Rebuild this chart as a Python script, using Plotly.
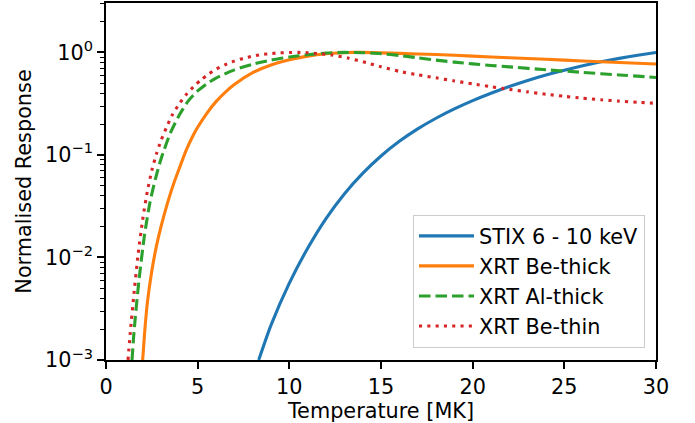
import numpy as np
import plotly.graph_objects as go

# Temperature [MK] and log10(normalised response)
stix_T = [8.33, 9, 10, 11, 12, 13, 14, 15, 16, 17, 18, 19, 20, 21, 22, 23, 24, 25, 26, 27, 28, 29, 30]
stix_log10 = [-3.0, -2.66, -2.25, -1.91, -1.62, -1.38, -1.18, -1.01, -0.867, -0.746, -0.642, -0.551,
              -0.47, -0.398, -0.332, -0.273, -0.22, -0.173, -0.13, -0.092, -0.058, -0.028, 0.0]

bethick_T = [2.0, 2.1, 2.25, 2.5, 2.75, 3.0, 3.37, 3.75, 4.0, 4.36, 4.75, 5.0, 5.5, 6.0, 6.5, 7.0, 8.0,
             9.0, 10.0, 11.0, 12.0, 13.0, 13.5, 14.0, 15.0, 16.0, 18.0, 20.0, 22.0, 24.0, 26.0, 28.0, 30.0]
bethick_log10 = [-3.0, -2.75, -2.45, -2.13, -1.89, -1.70, -1.46, -1.25, -1.13, -0.96, -0.81, -0.73, -0.594,
                 -0.48, -0.389, -0.313, -0.198, -0.123, -0.072, -0.036, -0.013, -0.003, 0.0, 0.0, -0.004,
                 -0.009, -0.021, -0.036, -0.052, -0.067, -0.083, -0.098, -0.113]

althick_T = [1.42, 1.5, 1.6, 1.8, 2.1, 2.4, 2.7, 3.0, 3.5, 4.0, 4.5, 5.0, 5.5, 6.0, 7.0, 8.0, 9.0, 10.0,
             11.0, 12.0, 13.0, 14.0, 15.0, 16.0, 17.0, 18.0, 19.0, 20.0, 21.0, 22.0, 24.0, 26.0, 28.0, 30.0]
althick_log10 = [-3.0, -2.79, -2.58, -2.22, -1.78, -1.46, -1.23, -1.04, -0.79, -0.61, -0.47, -0.375, -0.305,
                 -0.25, -0.17, -0.115, -0.075, -0.045, -0.022, -0.006, 0.0, -0.003, -0.012, -0.03, -0.052,
                 -0.075, -0.095, -0.112, -0.127, -0.141, -0.169, -0.195, -0.22, -0.244]

bethin_T = [1.2, 1.35, 1.5, 1.75, 2.0, 2.25, 2.5, 2.75, 3.0, 3.3, 3.6, 4.0, 4.4, 4.8, 5.2, 5.6, 6.0, 6.5,
            7.0, 7.5, 8.0, 8.5, 9.0, 9.5, 10.0, 10.5, 11.0, 11.5, 12.3, 13.2, 14.2, 15.0, 16.0, 17.0, 18.0,
            19.0, 20.0, 21.0, 22.0, 23.0, 24.0, 25.0, 26.0, 27.0, 28.0, 29.0, 30.0]
bethin_log10 = [-3.0, -2.68, -2.40, -1.97, -1.63, -1.36, -1.15, -0.99, -0.86, -0.73, -0.615, -0.50, -0.405,
                -0.33, -0.265, -0.21, -0.165, -0.12, -0.085, -0.057, -0.036, -0.021, -0.011, -0.004, -0.001,
                0.0, -0.003, -0.01, -0.025, -0.055, -0.10, -0.14, -0.185, -0.218, -0.248, -0.278, -0.307,
                -0.335, -0.36, -0.385, -0.408, -0.428, -0.447, -0.462, -0.475, -0.486, -0.496]

names = ["STIX 6 - 10 keV", "XRT Be-thick", "XRT Al-thick", "XRT Be-thin"]
colors = ["#1f77b4", "#ff7f0e", "#2ca02c", "#d62728"]
dashes = ["solid", "solid", "11.5px,5px", "3.1px,5.2px"]

x_ticks = [0, 5, 10, 15, 20, 25, 30]
y_ticks = [1e-3, 1e-2, 1e-1, 1e0]
y_ticktext = ["10<sup>\u22123</sup>", "10<sup>\u22122</sup>", "10<sup>\u22121</sup>", "10<sup>0</sup>"]
y_minor = [m * 10.0 ** e for e in (-3, -2, -1, 0) for m in range(2, 10)]

series = [(stix_T, stix_log10), (bethick_T, bethick_log10), (althick_T, althick_log10), (bethin_T, bethin_log10)]

fig = go.Figure()
for i, (T, lg) in enumerate(series):
    fig.add_trace(go.Scatter(
        x=T, y=10.0 ** np.array(lg), mode="lines", name=names[i],
        line=dict(color=colors[i], width=3.1, dash=dashes[i], shape="spline", smoothing=0.6),
        legendgroup=f"g{i}",
    ))

font = "DejaVu Sans"
fs = 20.8
fig.update_layout(
    width=695, height=423,
    margin=dict(l=106, r=39, t=2.5, b=63),
    paper_bgcolor="white", plot_bgcolor="white",
    font=dict(family=font, size=fs, color="black"),
    showlegend=True,
    legend=dict(
        x=0.98, y=0.034, xanchor="right", yanchor="bottom",
        bgcolor="rgba(255,255,255,0.8)", bordercolor="#cccccc", borderwidth=1,
        font=dict(family=font, size=fs, color="black"),
        tracegroupgap=0, itemwidth=55,
    ),
)
fig.update_xaxes(
    range=[0, 30], tickvals=x_ticks, ticks="outside", ticklen=7, tickwidth=1.6, tickcolor="black",
    showline=True, linecolor="black", linewidth=1.6, mirror=True, showgrid=False, zeroline=False,
    title=dict(text="Temperature [MK]", font=dict(family=font, size=fs), standoff=4),
    tickfont=dict(family=font, size=fs),
)
fig.update_yaxes(
    type="log", range=[-3, 0.482], tickvals=y_ticks, ticktext=y_ticktext,
    ticks="outside", ticklen=7, tickwidth=1.6, tickcolor="black",
    minor=dict(tickvals=y_minor, ticks="outside", ticklen=4, tickwidth=1.2, tickcolor="black", showgrid=False),
    showline=True, linecolor="black", linewidth=1.6, mirror=True, showgrid=False, zeroline=False,
    title=dict(text="Normalised Response", font=dict(family=font, size=fs), standoff=8),
    tickfont=dict(family=font, size=fs),
)

fig.write_html("out.html")
